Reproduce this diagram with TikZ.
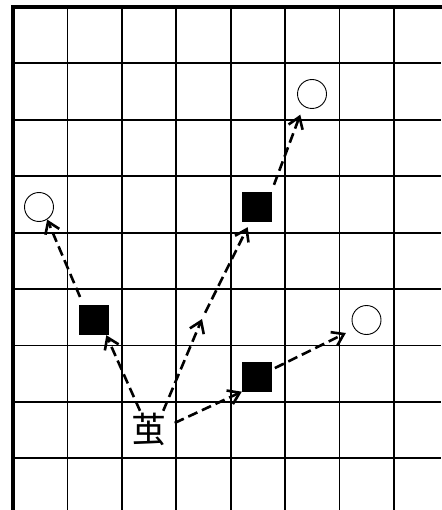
\documentclass[tikz,border=0pt]{standalone}
\usepackage{fontspec}
\newfontfamily\cjk{Noto Sans CJK SC}
\usetikzlibrary{arrows.meta}

\begin{document}
\begin{tikzpicture}[
    x=1pt, y=-1pt,
    gridln/.style={line width=1.8pt},
    frameln/.style={line width=3.8pt, line cap=rect},
    stone/.style={rectangle, fill=black, minimum size=30pt, inner sep=0pt},
    spot/.style={circle, draw, line width=0.9pt, minimum size=29pt, inner sep=0pt},
    hop/.style={line width=2.6pt, dash pattern=on 10pt off 5pt,
      -{Straight Barb[length=11pt, width=15pt]}}
  ]
  \useasboundingbox (0,0) rectangle (441,510);
  \fill[white] (0,0) rectangle (441,510);
  % board
  \foreach \i in {1,...,7}
    \draw[gridln] (13+54.43*\i, 7) -- (13+54.43*\i, 510);
  \foreach \j in {1,...,8}
    \draw[gridln] (13, 7+56.4*\j) -- (441, 7+56.4*\j);
  \draw[frameln] (13,510) -- (13,7) -- (441,7);
  % pieces
  \node[stone] (sq1) at (94,320) {};
  \node[stone] (sq2) at (257,207.5) {};
  \node[stone] (sq3) at (257,376.5) {};
  \node[spot] (c1) at (312,94) {};
  \node[spot] (c2) at (39,207) {};
  \node[spot] (c3) at (366.5,320) {};
  \node[minimum width=52pt, minimum height=36pt, inner sep=0pt,
    font=\cjk\fontsize{35}{35}\selectfont] (ch) at (148.5,429) {茧};
  \coordinate (m) at (202,319);
  % moves
  \draw[hop] (ch.115) -- (sq1.-51);
  \draw[hop, shorten <=8.5pt] (sq1.125) -- (c2.-57);
  \draw[hop] (ch.51) -- (m);
  \draw[hop, shorten <=7pt, shorten >=5pt] (m) -- (sq2.-115);
  \draw[hop, shorten <=8pt, shorten >=9pt] (sq2.47) -- (c1.-125);
  \draw[hop] (ch.13) -- (sq3.south west);
  \draw[hop, shorten <=3pt, shorten >=9.5pt] (sq3.25) -- (c3.-144);
\end{tikzpicture}
\end{document}
